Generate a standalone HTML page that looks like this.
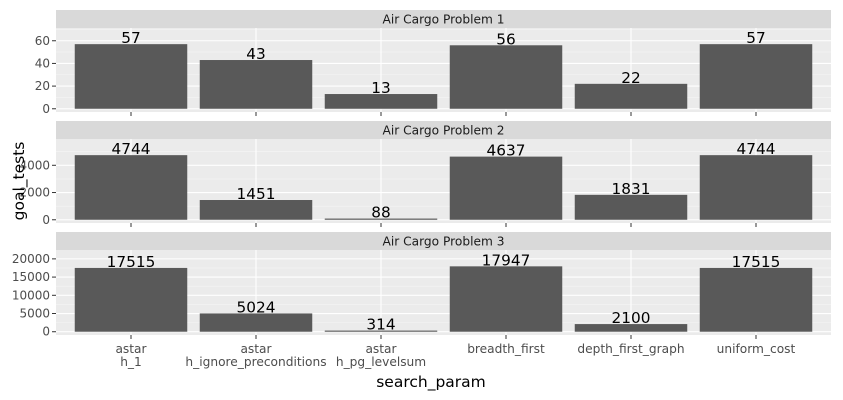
<!DOCTYPE html>
<html><head><meta charset="utf-8"><style>
html,body{margin:0;padding:0;background:#fff;}
svg{display:block;font-family:"DejaVu Sans","Liberation Sans",sans-serif;}
</style></head><body>
<svg id="chart" width="843" height="400" viewBox="0 0 843 400"></svg>
<script>
const categories = ["astar\nh_1","astar\nh_ignore_preconditions","astar\nh_pg_levelsum","breadth_first","depth_first_graph","uniform_cost"];
const facetTitles = ["Air Cargo Problem 1","Air Cargo Problem 2","Air Cargo Problem 3"];
const values1 = [57,43,13,56,22,57];
const values2 = [4744,1451,88,4637,1831,4744];
const values3 = [17515,5024,314,17947,2100,17515];
const ticks1 = [0,20,40,60];
const ticks2 = [0,2000,4000];
const ticks3 = [0,5000,10000,15000,20000];
const series = [values1, values2, values3];
const tickSets = [ticks1, ticks2, ticks3];

const NS = "http://www.w3.org/2000/svg";
const svg = document.getElementById("chart");
function mk(tag, attrs, parent){const e=document.createElementNS(NS,tag);for(const k in attrs)e.setAttribute(k,attrs[k]);(parent||svg).appendChild(e);return e;}

const X0 = 56, X1 = 831;
const unit = (X1 - X0) / (categories.length + 0.2);
function xScale(i){ return X0 + (i + 0.6) * unit; }
const bw = 0.9 * unit;
const panels = [[10,28,112],[121,139,223],[232,250,335]];

series.forEach((vals, p) => {
  const [st, pt, pb] = panels[p];
  const ticks = tickSets[p];
  const maxV = Math.max(...vals);
  const lo = -0.05 * maxV, hi = maxV * 1.25;
  const yScale = v => pb - (v - lo) / (hi - lo) * (pb - pt);
  const g = mk("g", {});
  
  
  const strip = mk("rect", {x:X0, y:st, width:X1-X0, height:pt-st, fill:"#d9d9d9"}, g);
  
  
  const st_t = mk("text", {x:(X0+X1)/2, y:(st+pt)/2+4.5, "text-anchor":"middle", "font-size":"12.2", fill:"#1a1a1a"}, g);
  st_t.textContent = facetTitles[p];
  
  
  const bg = mk("rect", {x:X0, y:pt, width:X1-X0, height:pb-pt, fill:"#ebebeb"}, g);
  
  
  const step = ticks[1] - ticks[0];
  for (let i = 0; i < ticks.length; i++) {
    const mv = ticks[i] + step / 2, my = yScale(mv);
    if (my > pt) mk("line", {x1:X0, x2:X1, y1:my, y2:my, stroke:"#f5f5f5", "stroke-width":0.6}, g);
  }
  ticks.forEach(t => {
    const y = yScale(t);
    mk("line", {x1:X0, x2:X1, y1:y, y2:y, stroke:"#fff", "stroke-width":1.1}, g);
    mk("line", {x1:X0-4, x2:X0, y1:y, y2:y, stroke:"#333", "stroke-width":1}, g);
    const tl = mk("text", {x:X0-6, y:y+4, "text-anchor":"end", "font-size":"12", fill:"#4d4d4d"}, g);
    tl.textContent = t;
    
    
  });
  categories.forEach((c, i) => {
    const cx = xScale(i);
    mk("line", {x1:cx, x2:cx, y1:pt, y2:pb, stroke:"#fff", "stroke-width":1.1}, g);
    mk("line", {x1:cx, x2:cx, y1:pb, y2:pb+4, stroke:"#333", "stroke-width":1}, g);
  });
  vals.forEach((v, i) => {
    const cx = xScale(i), y0 = yScale(0), y = yScale(v);
    const bar = mk("rect", {x:cx-bw/2, y:Math.min(y,y0), width:bw, height:Math.max(Math.abs(y0-y),0.8), fill:"#595959"}, g);
    
    
    const lbl = mk("text", {x:cx, y:y-1, "text-anchor":"middle", "font-size":"15.3", fill:"#000"}, g);
    lbl.textContent = v;
    
    
  });
});

categories.forEach((c, i) => {
  const lines = c.split("\n");
  const t = mk("text", {x:xScale(i), y:353, "text-anchor":"middle", "font-size":"12.2", fill:"#4d4d4d"});
  
  
  lines.forEach((l, k) => { const ts = mk("tspan", {x:xScale(i), dy: k ? 13 : 0}, t); ts.textContent = l; });
});
const xt = mk("text", {x:431, y:387, "text-anchor":"middle", "font-size":"15.5", fill:"#000"});
xt.textContent = "search_param";


const yt = mk("text", {x:0, y:0, "text-anchor":"middle", "font-size":"15.5", fill:"#000", transform:"translate(24,181) rotate(-90)"});
yt.textContent = "goal_tests";


</script>
</body></html>
